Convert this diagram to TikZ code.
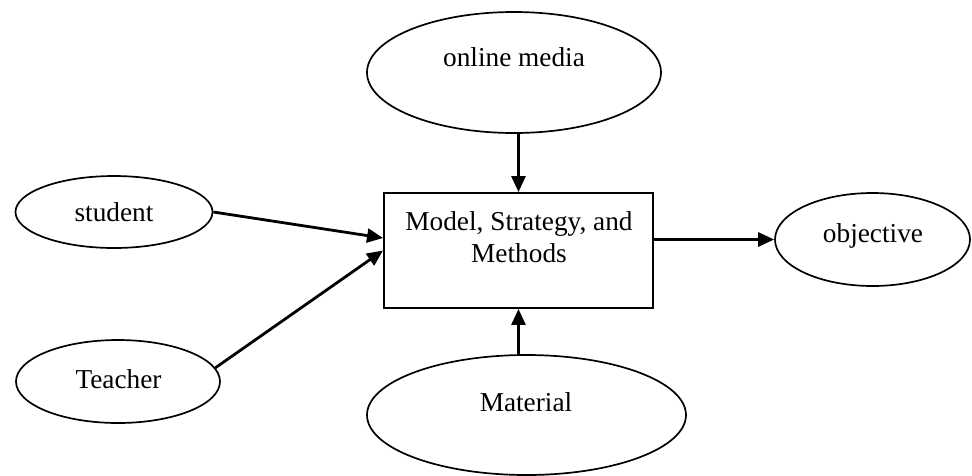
\documentclass[tikz,border=0pt]{standalone}
\usepackage{fontspec}
\setmainfont{Liberation Serif}
\usetikzlibrary{shapes.geometric,arrows.meta,calc}
\begin{document}
\begin{tikzpicture}[x=1pt,y=-1pt,
  oval/.style={draw,ellipse,line width=1.7pt,inner sep=0pt},
  lbl/.style={font=\fontsize{27.3}{32}\selectfont,inner sep=0pt,text height=0.68em,text depth=0.2em},
  boxlbl/.style={font=\fontsize{27.3}{32}\selectfont,inner sep=0pt,align=center},
  conn/.style={line width=2.8pt,-{Triangle[length=16pt,width=14pt]}}]
\useasboundingbox (0,0) rectangle (972,475);
\clip (0,0) rectangle (972,475);
% shapes
\node[oval,minimum width=294pt,minimum height=121pt] (online) at (514,72.5) {};
\node[oval,minimum width=197pt,minimum height=72pt] (student) at (114,212) {};
\node[oval,minimum width=204pt,minimum height=83pt] (teacher) at (118,381.5) {};
\node[oval,minimum width=195pt,minimum height=93pt] (objective) at (872.5,239.5) {};
\node[oval,minimum width=319pt,minimum height=120pt] (material) at (526.5,415) {};
\node[draw,line width=1.9pt,minimum width=269pt,minimum height=115pt,inner sep=0pt] (box) at (518.5,250.5) {};
% labels
\node[lbl] (tonline) at (514,64) {online media};
\node[lbl] (tstudent) at (114,219) {student};
\node[lbl] (tteacher) at (118.5,386) {Teacher};
\node[lbl] (tobjective) at (873,240) {objective};
\node[lbl] (tmaterial) at (526,409) {Material};
\node[boxlbl] (tbox) at (519,237) {Model, Strategy, and\\Methods};
% connectors
\draw[conn] (box.north |- online.south) -- (box.north);
\draw[conn] (box.south |- material.north) -- (box.south);
\draw[conn] (student.east) -- ($(box.west)+(0,-12.5)$);
\draw[conn] (teacher.8) -- (box.west);
\draw[conn] (box.east |- objective.west) -- (objective.west);
\end{tikzpicture}
\end{document}
